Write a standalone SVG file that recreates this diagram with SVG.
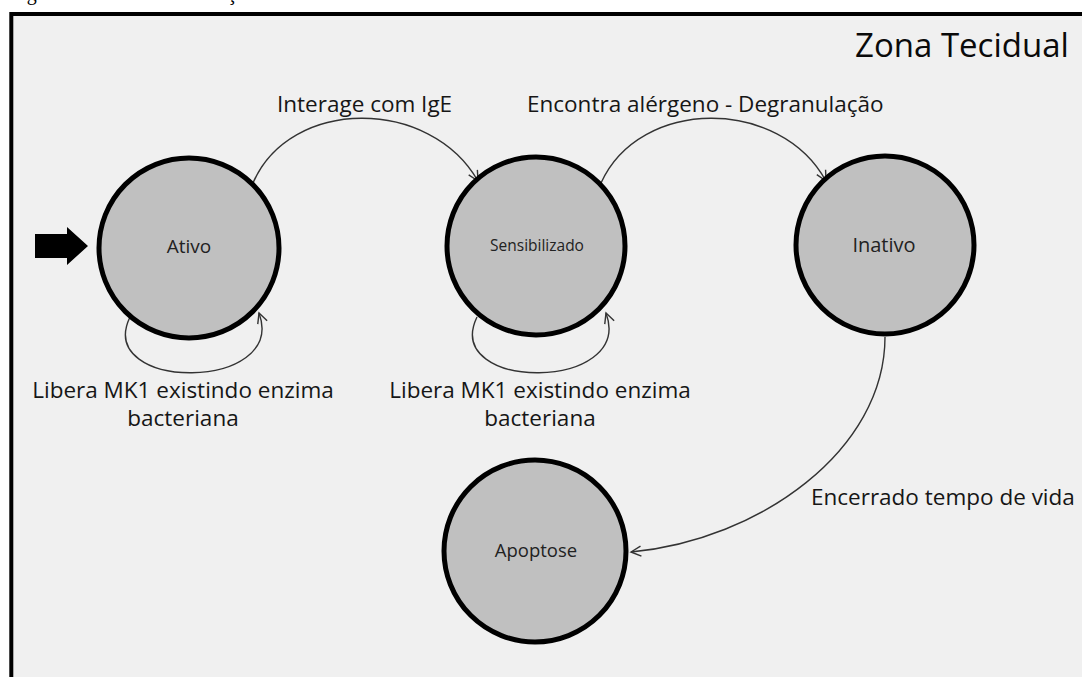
<svg xmlns="http://www.w3.org/2000/svg" width="1082" height="677" viewBox="0 0 1082 677">
<style>
.node circle{fill:#c0c0c0;stroke:#000;stroke-width:5}
.nt{font-family:"Open Sans","Noto Sans",sans-serif;fill:#222;text-anchor:middle}
.lbl{font-family:"Open Sans","Noto Sans",sans-serif;font-size:22.5px;fill:#161616}
.c{fill:none;stroke:#333;stroke-width:1.4;marker-end:url(#arr)}
</style>
<defs>
<marker id="arr" markerWidth="14" markerHeight="14" refX="11" refY="6" orient="auto" markerUnits="userSpaceOnUse">
<path d="M1,1 L11,6 L1,11" fill="none" stroke="#333" stroke-width="1.4"/>
</marker>
</defs>
<rect width="1082" height="677" fill="#fff"/>
<text x="10" y="-0.5" font-family="Liberation Serif,serif" font-size="20" fill="#000">Figura 2 – Modelo de ativação</text>
<rect x="11.3" y="14" width="1100" height="700" fill="#f0f0f0" stroke="#000" stroke-width="4"/>
<text x="855" y="57" font-family="Open Sans,Noto Sans,sans-serif" font-size="33" fill="#0a0a0a">Zona Tecidual</text>

<g id="start">
<path d="M35,234 L67,234 L67,227 L88,246 L67,265 L67,258 L35,258 Z" fill="#000"/>
</g>

<g id="connectors">
<path class="c" d="M253,183 C290,97 430,97 478,181"/>
<path class="c" d="M601,183 C640,97 780,97 826,181"/>
<path class="c" d="M130,317 C94,392 288,392 259,313"/>
<path class="c" d="M477,317 C441,392 635,392 606,313"/>
<path class="c" d="M885,337 C885,450 760,540 631,552"/>
</g>

<g id="labels">
<text class="lbl" x="277" y="112">Interage com IgE</text>
<text class="lbl" x="527" y="112">Encontra alérgeno - Degranulação</text>
<text class="lbl" x="183" y="398" text-anchor="middle">Libera MK1 existindo enzima</text>
<text class="lbl" x="183" y="426" text-anchor="middle">bacteriana</text>
<text class="lbl" x="540" y="398" text-anchor="middle">Libera MK1 existindo enzima</text>
<text class="lbl" x="540" y="426" text-anchor="middle">bacteriana</text>
<text class="lbl" x="811" y="505">Encerrado tempo de vida</text>
</g>

<g id="ativo" class="node">
<circle cx="189" cy="248" r="90"/>
<text class="nt" x="189" y="253" font-size="19">Ativo</text>
</g>
<g id="sensibilizado" class="node">
<circle cx="536" cy="246" r="89"/>
<text class="nt" x="537" y="251" font-size="15.5">Sensibilizado</text>
</g>
<g id="inativo" class="node">
<circle cx="885" cy="245" r="89"/>
<text class="nt" x="884" y="252" font-size="20">Inativo</text>
</g>
<g id="apoptose" class="node">
<circle cx="535" cy="551" r="91"/>
<text class="nt" x="536" y="557" font-size="18.5">Apoptose</text>
</g>
</svg>
